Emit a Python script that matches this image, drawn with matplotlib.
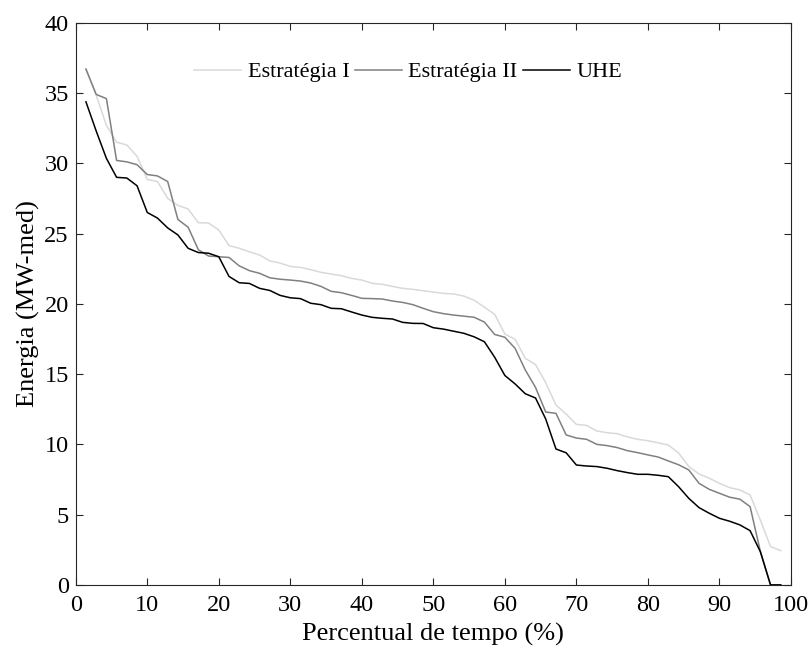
import numpy as np
import matplotlib
matplotlib.use("Agg")
import matplotlib.pyplot as plt

plt.rcParams['font.family'] = ['Liberation Serif', 'DejaVu Serif']

# percent of time: 69 sorted values, i/70*100
n_pts = 69
tempo = np.arange(1, n_pts + 1) / (n_pts + 1) * 100

estrategia_1 = [36.7, 34.85, 32.7, 31.5, 31.3, 30.5, 28.85, 28.7, 27.5, 27.0,
                26.75, 25.77, 25.75, 25.25, 24.15, 23.95, 23.7, 23.47, 23.05, 22.9,
                22.66, 22.59, 22.43, 22.24, 22.12, 22.0, 21.81, 21.69, 21.46, 21.39,
                21.24, 21.1, 21.03, 20.93, 20.84, 20.74, 20.7, 20.55, 20.25, 19.76,
                19.25, 17.85, 17.48, 16.12, 15.68, 14.38, 12.8, 12.15, 11.42, 11.35,
                10.95, 10.83, 10.76, 10.53, 10.36, 10.26, 10.11, 9.95, 9.39, 8.42,
                7.9, 7.59, 7.23, 6.92, 6.76, 6.4, 4.62, 2.73, 2.44]

estrategia_2 = [36.7, 34.9, 34.6, 30.2, 30.1, 29.9, 29.2, 29.1, 28.7, 26.0,
                25.45, 23.85, 23.4, 23.35, 23.3, 22.7, 22.36, 22.17, 21.85, 21.75,
                21.69, 21.62, 21.48, 21.24, 20.89, 20.79, 20.6, 20.39, 20.37, 20.34,
                20.2, 20.1, 19.94, 19.68, 19.44, 19.3, 19.2, 19.12, 19.04, 18.7,
                17.82, 17.62, 16.83, 15.29, 14.05, 12.3, 12.21, 10.67, 10.45, 10.36,
                10.0, 9.91, 9.77, 9.55, 9.41, 9.25, 9.1, 8.82, 8.55, 8.18,
                7.23, 6.8, 6.52, 6.24, 6.1, 5.57, 2.4, 0.0, 0.0]

uhe = [34.37, 32.3, 30.35, 29.0, 28.95, 28.4, 26.5, 26.1, 25.4, 24.9,
       23.95, 23.65, 23.6, 23.35, 21.95, 21.5, 21.45, 21.1, 20.95, 20.6,
       20.43, 20.37, 20.04, 19.94, 19.68, 19.65, 19.42, 19.2, 19.04, 18.97,
       18.92, 18.68, 18.61, 18.6, 18.3, 18.2, 18.05, 17.9, 17.65, 17.3,
       16.2, 14.9, 14.3, 13.6, 13.3, 11.8, 9.67, 9.4, 8.53, 8.46,
       8.42, 8.3, 8.13, 7.99, 7.87, 7.87, 7.8, 7.7, 6.99, 6.16,
       5.5, 5.1, 4.74, 4.53, 4.27, 3.86, 2.37, 0.0, 0.0]

fig = plt.figure(figsize=(8.1, 6.55), dpi=100)
ax = fig.add_axes([0.0935, 0.107, 0.883, 0.8583])

ax.plot(tempo, estrategia_1, color='#d9d9d9', lw=1.1, label='Estratégia I')
ax.plot(tempo, estrategia_2, color='#808080', lw=1.1, label='Estratégia II')
ax.plot(tempo, uhe, color='black', lw=1.1, label='UHE')

ax.set_xlim(0, 100)
ax.set_ylim(0, 40)
ax.set_xticks(np.arange(0, 101, 10))
ax.set_yticks(np.arange(0, 41, 5))
ax.tick_params(direction='in', top=True, right=True, labelsize=17.5,
               length=5, width=0.8, color='#262626', pad=5)
ax.tick_params(axis='x', pad=7)
for s in ax.spines.values():
    s.set_linewidth(0.8)
    s.set_color('#262626')

ax.set_xlabel('Percentual de tempo (%)', fontsize=19, labelpad=5)
ax.set_ylabel('Energia (MW-med)', fontsize=19, labelpad=3)

ax.legend(loc='center', bbox_to_anchor=(0.465, 0.912), ncol=3, frameon=False,
          fontsize=16, handlelength=2.1, handletextpad=0.3, columnspacing=0.25)

fig.savefig('out.png', dpi=100)
